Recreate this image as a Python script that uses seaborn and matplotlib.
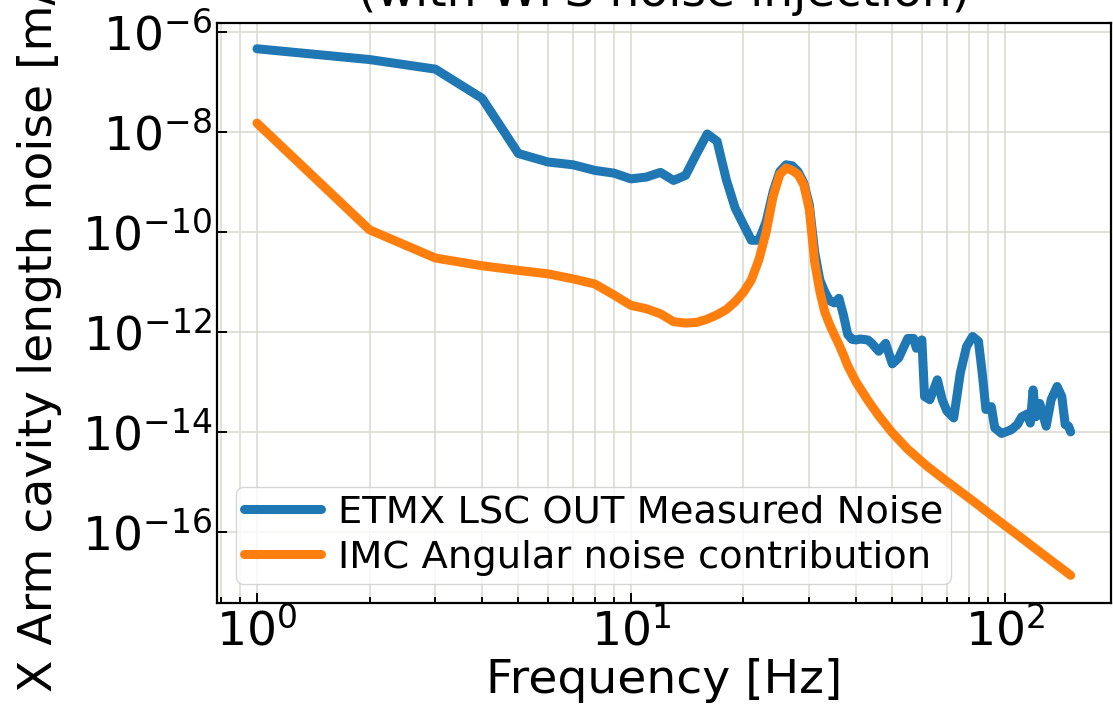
import numpy as np
import pandas as pd
import matplotlib
matplotlib.use("Agg")
import matplotlib.pyplot as plt
import matplotlib.ticker as mticker
import seaborn as sns

# ETMX LSC OUT measured noise [m/rtHz]
etmx_freq = [1, 2, 3, 4, 5, 6, 7, 8, 9, 10, 11, 12, 13, 14, 15, 16, 17, 18, 19, 20,
             21, 22, 23, 24, 25, 26, 27, 28, 29, 30, 31, 32, 33, 34, 35, 36, 37, 38, 39, 40,
             41, 43, 44, 46, 48, 50, 52, 55, 57, 58, 60, 61, 63, 66, 68, 70, 73, 76, 79, 82,
             85, 87, 89, 92, 94, 98, 104, 108, 111, 115, 117, 119, 121, 124, 129, 133, 138, 142, 145, 148,
             150]
etmx_noise = [4.6e-7, 2.8e-7, 1.8e-7, 4.7e-8, 3.7e-9, 2.5e-9, 2.2e-9, 1.7e-9, 1.5e-9, 1.15e-9,
              1.25e-9, 1.55e-9, 1.07e-9, 1.35e-9, 3.7e-9, 9.1e-9, 6.5e-9, 1.1e-9, 3.0e-10, 1.4e-10,
              6.8e-11, 6.8e-11, 1.6e-10, 6.3e-10, 1.6e-9, 2.2e-9, 2.1e-9, 1.6e-9, 9.5e-10, 3.5e-10,
              4.0e-11, 1.1e-11, 6.3e-12, 4.2e-12, 3.8e-12, 4.7e-12, 2.2e-12, 8.9e-13, 7.1e-13, 6.9e-13,
              7.2e-13, 6.9e-13, 6.0e-13, 4.1e-13, 5.9e-13, 2.3e-13, 3.0e-13, 7.4e-13, 7.4e-13, 4.7e-13,
              6.9e-13, 5.1e-14, 4.4e-14, 1.1e-13, 4.4e-14, 2.6e-14, 1.9e-14, 1.5e-13, 5.1e-13, 8.1e-13,
              6.5e-13, 1.5e-13, 2.8e-14, 3.2e-14, 1.2e-14, 9.3e-15, 1.1e-14, 1.4e-14, 2.0e-14, 2.3e-14,
              1.5e-14, 6.9e-14, 2.0e-14, 3.7e-14, 1.3e-14, 4.4e-14, 8.1e-14, 5.1e-14, 1.4e-14, 1.3e-14,
              1.0e-14]

# IMC angular noise contribution [m/rtHz]
imc_freq = [1, 2, 3, 4, 5, 6, 7, 8, 9, 10, 11, 12, 13, 14, 15, 16, 17, 18, 19, 20,
            21, 22, 23, 24, 25, 26, 27, 28, 29, 30, 31, 32, 33, 34, 35, 36, 37, 38, 40, 43,
            46, 50, 55, 62, 70, 82, 95, 109, 125, 150]
imc_noise = [1.5e-8, 1.1e-10, 3.0e-11, 2.1e-11, 1.7e-11, 1.45e-11, 1.15e-11, 9.1e-12, 5.5e-12, 3.4e-12,
             2.9e-12, 2.3e-12, 1.6e-12, 1.5e-12, 1.55e-12, 1.8e-12, 2.2e-12, 2.8e-12, 4.0e-12, 6.2e-12,
             1.1e-11, 2.8e-11, 1.0e-10, 5.1e-10, 1.4e-9, 1.9e-9, 1.7e-9, 1.4e-9, 8.7e-10, 2.8e-10,
             2.5e-11, 6.5e-12, 2.5e-12, 1.4e-12, 8.7e-13, 5.6e-13, 3.5e-13, 2.1e-13, 1.0e-13, 4.3e-14,
             2.1e-14, 9.6e-15, 4.5e-15, 2.05e-15, 1.02e-15, 4.2e-16, 1.8e-16, 8.3e-17, 3.8e-17, 1.35e-17]

labels = ["ETMX LSC OUT Measured Noise", "IMC Angular noise contribution"]
yticks = [1e-16, 1e-14, 1e-12, 1e-10, 1e-8, 1e-6]

df = pd.concat([
    pd.DataFrame({"freq": etmx_freq, "noise": etmx_noise, "series": labels[0]}),
    pd.DataFrame({"freq": imc_freq, "noise": imc_noise, "series": labels[1]}),
])

sns.set_style("white")
plt.rcParams["font.family"] = ["DejaVu Sans"]
plt.rcParams.update({"text.color": "black", "axes.labelcolor": "black",
                     "xtick.color": "black", "ytick.color": "black"})

fig = plt.figure(figsize=(11.13, 7.16), dpi=100)
ax = fig.add_axes([0.195, 0.158, 0.803, 0.810])

sns.lineplot(data=df, x="freq", y="noise", hue="series", ax=ax,
             palette=["#1f77b4", "#ff7f0e"], linewidth=6.5, legend=True)

ax.set_xscale("log")
ax.set_yscale("log")
ax.set_xlim(0.782, 192)
ax.set_ylim(10 ** -17.42, 10 ** -5.82)
ax.set_yticks(yticks)
ax.yaxis.set_minor_locator(mticker.NullLocator())

ax.grid(which="both", color="#dcdad2", linewidth=1.2)
ax.set_axisbelow(True)
for s in ax.spines.values():
    s.set_color("black")
    s.set_linewidth(1.6)

ax.tick_params(which="both", direction="in", labelsize=34, width=1.4,
               bottom=True, left=True, top=False, right=False)
ax.tick_params(which="major", length=7)
ax.tick_params(which="minor", length=4.5)

ax.set_xlabel("Frequency [Hz]", fontsize=34, labelpad=2)
ax.set_ylabel("X Arm cavity length noise [m/√Hz]", fontsize=34)
ax.yaxis.set_label_coords(-0.173, 0.547)
ax.set_title("(with WFS noise injection)", fontsize=34, pad=12)

leg = ax.legend(loc="lower left", fontsize=27.7, handlelength=2.0, handletextpad=0.45,
                borderpad=0.2, labelspacing=0.25, framealpha=0.8)
for line in leg.get_lines():
    line.set_linewidth(6.5)

fig.savefig("out.png", dpi=100)
